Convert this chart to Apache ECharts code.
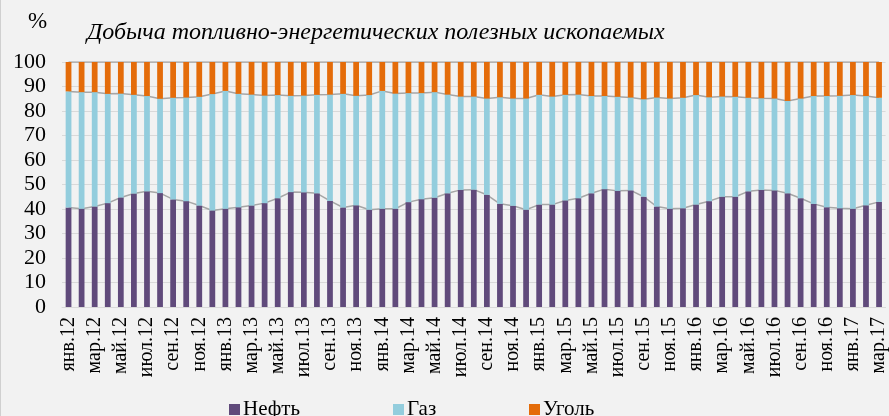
<!DOCTYPE html>
<html>
<head>
<meta charset="utf-8">
<script src="https://cdn.jsdelivr.net/npm/echarts@6/dist/echarts.min.js"></script>
<style>
  html, body { margin: 0; padding: 0; background: #f2f2f2; }
  #chart { width: 889px; height: 416px; box-sizing: border-box; border-left: 1px solid #d0d0d0; }
</style>
</head>
<body>
<div id="chart"></div>
<script>
// месяцы и годы для оси X (янв.12 ... мар.17)
const months = ['янв', 'фев', 'мар', 'апр', 'май', 'июн', 'июл', 'авг', 'сен', 'окт', 'ноя', 'дек'];
const years = ['12', '13', '14', '15', '16', '17'];
const monthCount = 63;

// доли, %
const oil = [40.6, 40.1, 41.0, 42.4, 44.7, 46.3, 47.2, 46.5, 43.9, 43.2, 41.4, 39.4,
  40.1, 40.7, 41.4, 42.4, 44.4, 46.9, 46.8, 46.4, 43.3, 40.6, 41.5, 39.7,
  40.1, 40.1, 42.8, 44.0, 44.6, 46.4, 47.8, 47.9, 45.8, 42.1, 41.3, 39.7,
  41.8, 41.8, 43.5, 44.4, 46.4, 48.1, 47.4, 47.6, 45.0, 41.0, 40.1, 40.3,
  41.8, 43.2, 45.0, 45.0, 47.2, 47.8, 47.6, 46.4, 44.4, 42.1, 40.7, 40.3,
  40.1, 41.5, 42.9];
const gas = [47.4, 47.6, 46.7, 44.6, 42.4, 40.3, 38.9, 38.5, 41.5, 42.3, 44.4, 47.5,
  48.1, 46.3, 45.3, 43.9, 42.1, 39.3, 39.5, 40.2, 43.4, 46.4, 44.7, 46.8,
  48.1, 47.0, 44.5, 43.3, 43.1, 40.3, 38.1, 38.0, 39.3, 43.5, 43.8, 45.4,
  44.8, 44.1, 43.1, 42.3, 39.7, 38.0, 38.4, 37.9, 39.8, 44.5, 45.0, 45.1,
  44.7, 42.4, 40.9, 40.8, 38.2, 37.4, 37.5, 37.7, 40.7, 44.0, 45.4, 45.9,
  46.4, 44.6, 42.5];
const coal = [12.0, 12.3, 12.3, 13.0, 12.9, 13.4, 13.9, 15.0, 14.6, 14.5, 14.2, 13.1,
  11.8, 13.0, 13.3, 13.7, 13.5, 13.8, 13.7, 13.4, 13.3, 13.0, 13.8, 13.5,
  11.8, 12.9, 12.7, 12.7, 12.3, 13.3, 14.1, 14.1, 14.9, 14.4, 14.9, 14.9,
  13.4, 14.1, 13.4, 13.3, 13.9, 13.9, 14.2, 14.5, 15.2, 14.5, 14.9, 14.6,
  13.5, 14.4, 14.1, 14.2, 14.6, 14.8, 14.9, 15.9, 14.9, 13.9, 13.9, 13.8,
  13.5, 13.9, 14.6];
const yTicks = [0, 10, 20, 30, 40, 50, 60, 70, 80, 90, 100];

const categories = [];
for (let i = 0; i < monthCount; i++) {
  categories.push(months[i % 12] + '.' + years[Math.floor(i / 12)]);
}

// линии между столбцами (как series lines в Excel)
const lineOil = oil.map(v => v);
const lineGas = oil.map((v, i) => +(v + gas[i]).toFixed(1));
const lineTop = oil.map((v, i) => +(v + gas[i] + coal[i]).toFixed(1));

const serif = 'Liberation Serif, Times New Roman, serif';
const colors = { oil: '#604a7b', gas: '#93cddd', coal: '#e46c0a' };

const chart = echarts.init(document.getElementById('chart'));

function legendItem(name, left) {
  return {
    data: [name],
    left: left,
    top: 394,
    itemWidth: 11,
    itemHeight: 11,
    itemGap: 4,
    icon: 'rect',
    textStyle: { fontFamily: serif, fontSize: 21, color: '#000', padding: [0, 0, 0, -2] },
    selectedMode: false
  };
}

const lineStyleSeries = (data) => ({
  type: 'line',
  data: data,
  symbol: 'none',
  silent: true,
  z: 1,
  lineStyle: { color: '#a6a6a6', width: 1.5 }
});

chart.setOption({
  backgroundColor: '#f2f2f2',
  animation: false,
  title: [
    {
      text: '%',
      left: 22,
      top: 5,
      textStyle: { fontFamily: serif, fontSize: 23, fontWeight: 'normal', color: '#000' }
    },
    {
      text: 'Добыча топливно-энергетических полезных ископаемых',
      left: 81,
      top: 16,
      textStyle: { fontFamily: serif, fontSize: 24, fontStyle: 'italic', fontWeight: 'normal', color: '#000' }
    }
  ],
  legend: [
    legendItem('Нефть', 223),
    legendItem('Газ', 387),
    legendItem('Уголь', 523)
  ],
  grid: { left: 61, top: 62, width: 830, height: 245, containLabel: false },
  xAxis: {
    type: 'category',
    data: categories,
    boundaryGap: true,
    axisTick: { show: false },
    axisLine: { show: true, lineStyle: { color: '#d9d9d9', width: 1 } },
    axisLabel: {
      interval: 1,
      rotate: 90,
      margin: 10,
      fontFamily: serif,
      fontSize: 20,
      color: '#000'
    }
  },
  yAxis: {
    type: 'value',
    min: yTicks[0],
    max: yTicks[yTicks.length - 1],
    interval: yTicks[1] - yTicks[0],
    axisLine: { show: false },
    axisTick: { show: false },
    axisLabel: { fontFamily: serif, fontSize: 22, color: '#000', margin: 16 },
    splitLine: { lineStyle: { color: '#d9d9d9', width: 1.2 } }
  },
  series: [
    { name: 'Нефть', type: 'bar', stack: 'all', data: oil, barWidth: '44%', itemStyle: { color: colors.oil }, z: 2 },
    { name: 'Газ', type: 'bar', stack: 'all', data: gas, barWidth: '44%', itemStyle: { color: colors.gas }, z: 2 },
    { name: 'Уголь', type: 'bar', stack: 'all', data: coal, barWidth: '44%', itemStyle: { color: colors.coal }, z: 2 },
    lineStyleSeries(lineOil),
    lineStyleSeries(lineGas),
    lineStyleSeries(lineTop)
  ]
});
</script>
</body>
</html>
